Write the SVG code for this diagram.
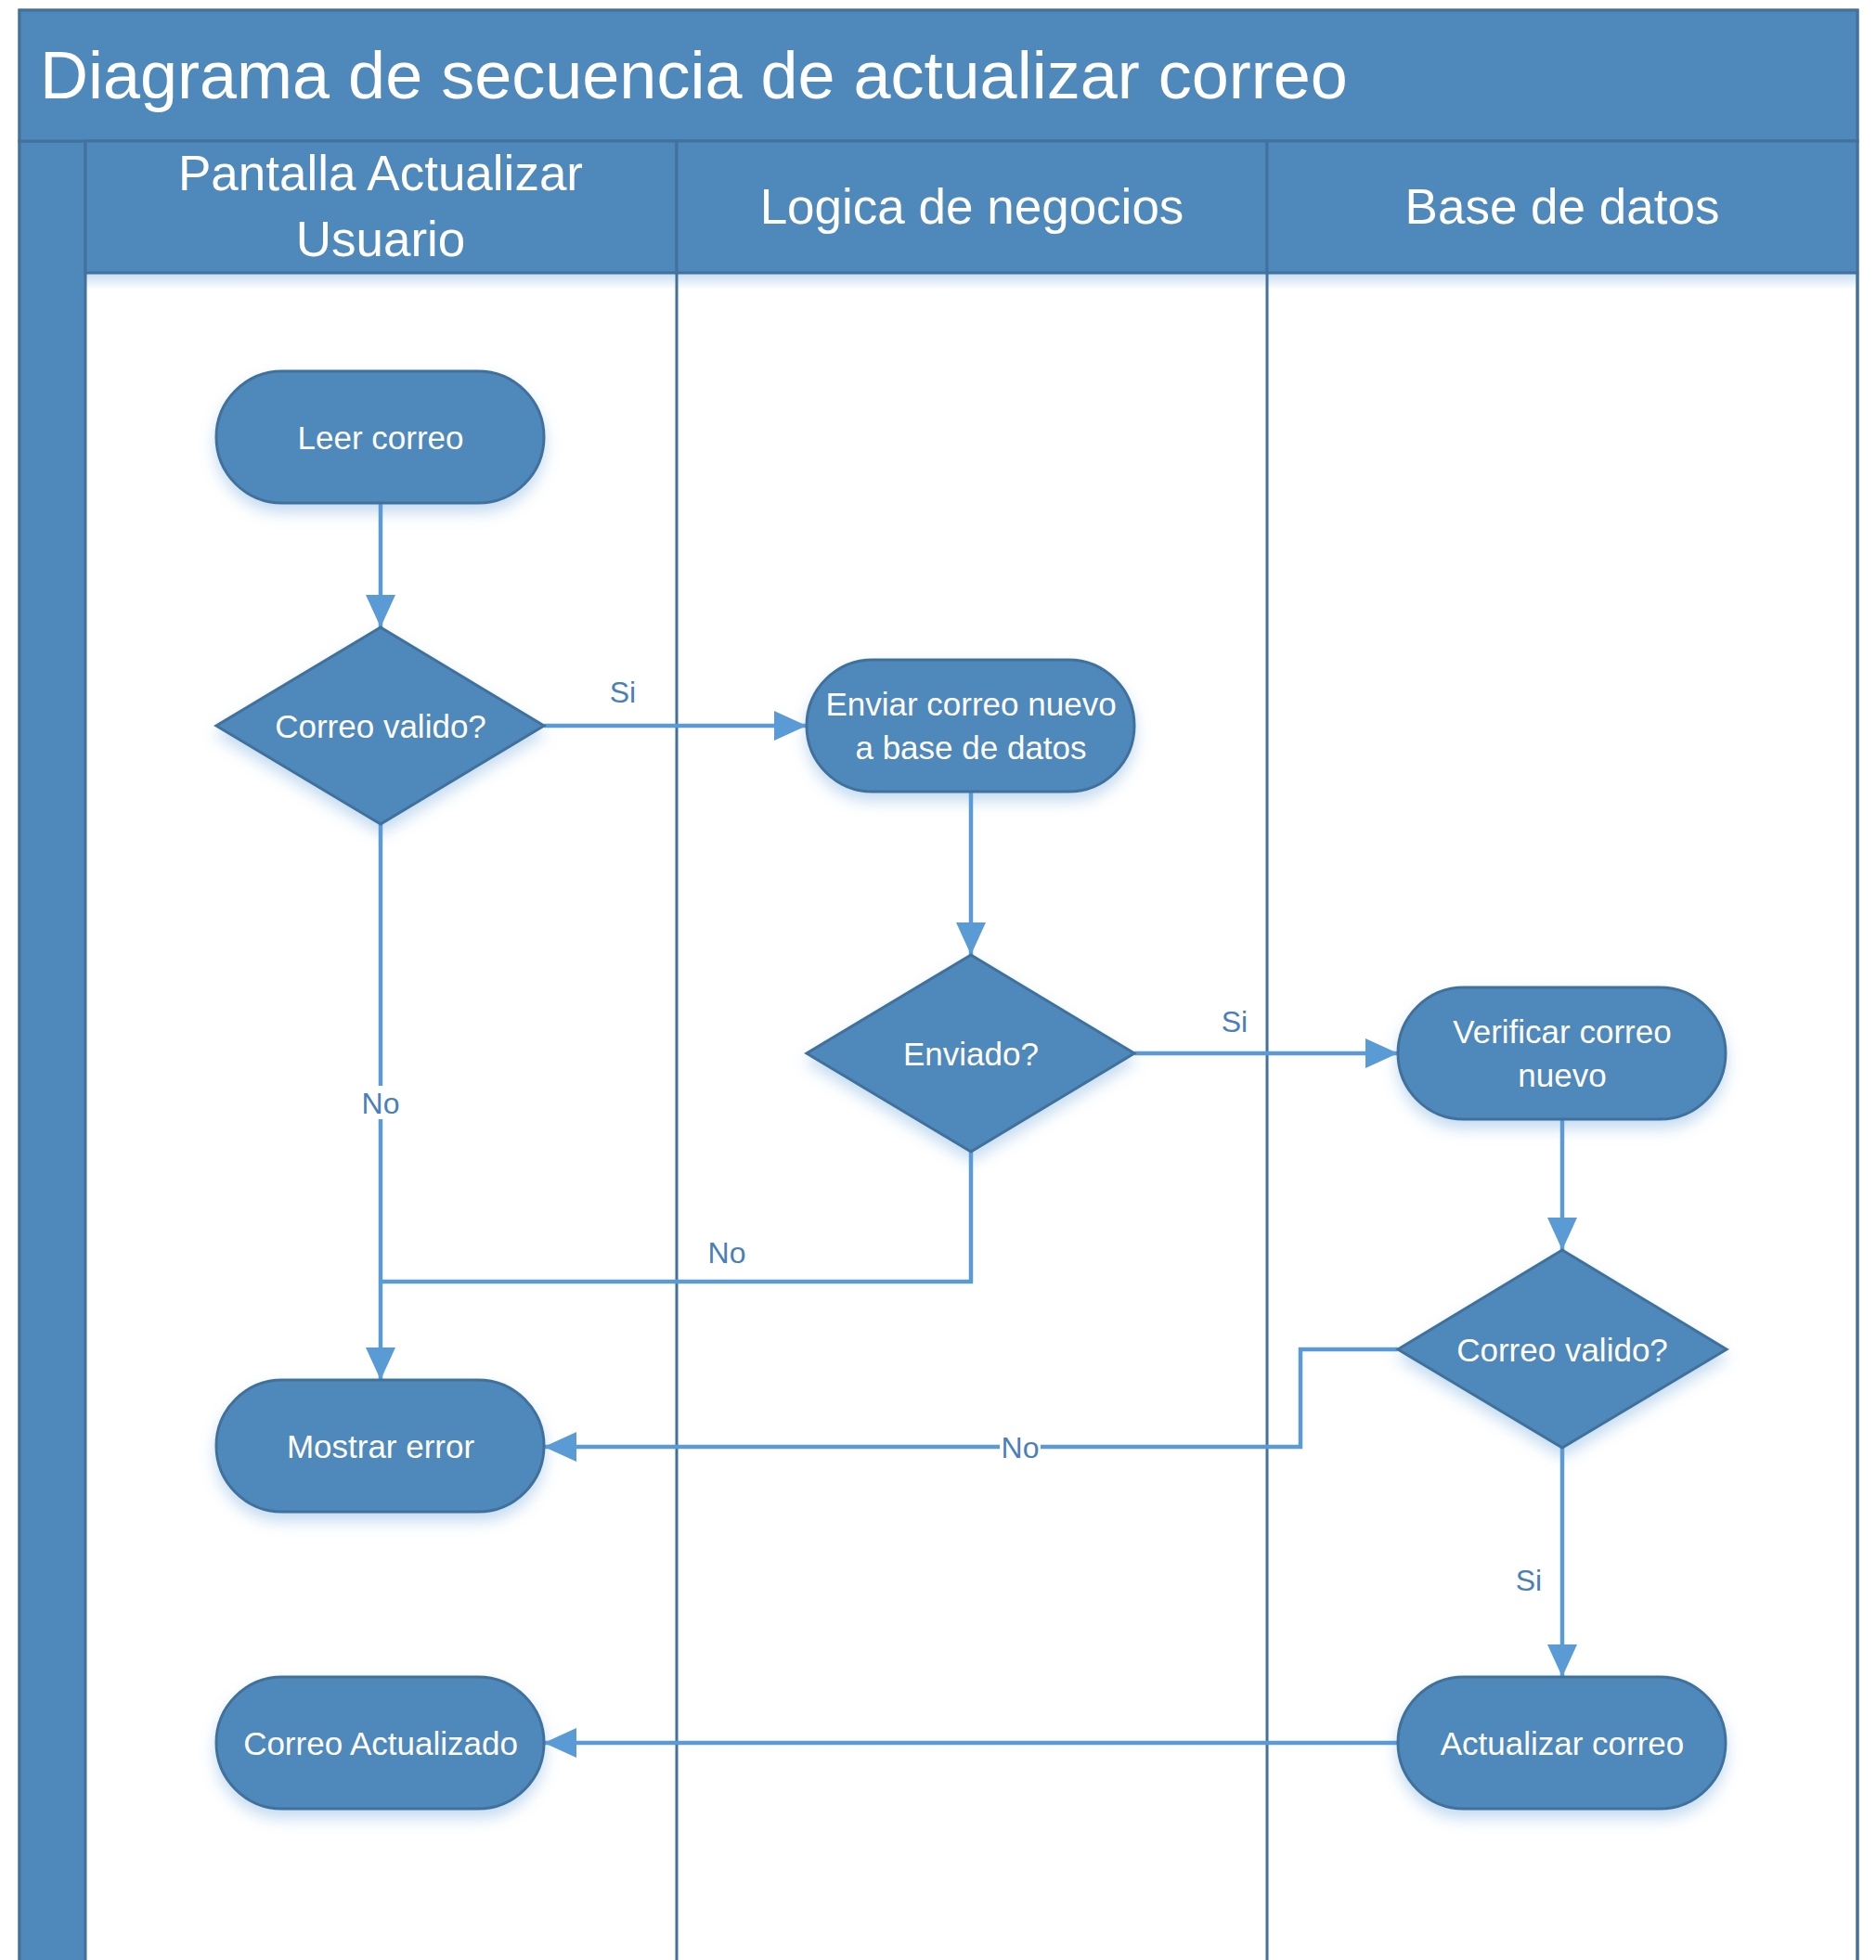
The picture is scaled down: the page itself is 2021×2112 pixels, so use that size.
<svg xmlns="http://www.w3.org/2000/svg" width="2021" height="2112" viewBox="0 0 2021 2112">
<defs>
<style>
.band{fill:#4F88BB;stroke:#41719C;stroke-width:3}
.lane{fill:none;stroke:#41719C;stroke-width:3}
.node{fill:#4F88BB;stroke:#41719C;stroke-width:3;filter:url(#sh)}
.ntext{font-family:"Liberation Sans",Arial,sans-serif;font-size:35px;fill:#ffffff;text-anchor:middle}
.htext{font-family:"Liberation Sans",Arial,sans-serif;font-size:53px;fill:#ffffff;text-anchor:middle}
.ttext{font-family:"Liberation Sans",Arial,sans-serif;font-size:72px;fill:#ffffff}
.conn{fill:none;stroke:#5B9BD5;stroke-width:4.5}
.lbl{font-family:"Liberation Sans",Arial,sans-serif;font-size:32px;fill:#4A80B8;text-anchor:middle}
.lblbg{fill:#ffffff}
</style>
<filter id="sh" x="-20%" y="-20%" width="140%" height="160%">
<feDropShadow dx="0" dy="9" stdDeviation="8" flood-color="#5B9BD5" flood-opacity="0.35"/>
</filter>
<linearGradient id="hs" x1="0" y1="0" x2="0" y2="1">
<stop offset="0" stop-color="#5B9BD5" stop-opacity="0.35"/>
<stop offset="1" stop-color="#5B9BD5" stop-opacity="0"/>
</linearGradient>
<marker id="arr" markerUnits="userSpaceOnUse" markerWidth="36" markerHeight="32" refX="35" refY="16" orient="auto">
<path d="M0,0 L35,16 L0,32 z" fill="#5B9BD5"/>
</marker>
</defs>

<g id="pool">
<rect x="21" y="11" width="1980" height="2120" fill="#ffffff" stroke="#41719C" stroke-width="3"/>
<rect x="92" y="294" width="1909" height="18" fill="url(#hs)"/>
<rect class="band" x="21" y="152" width="71" height="1980"/>
<rect class="band" x="21" y="11" width="1980" height="141"/>
<text class="ttext" x="43" y="106">Diagrama de secuencia de actualizar correo</text>
<rect class="band" x="92" y="152" width="637" height="142"/>
<rect class="band" x="729" y="152" width="636" height="142"/>
<rect class="band" x="1365" y="152" width="636" height="142"/>
<text class="htext" x="410" y="205">Pantalla Actualizar</text>
<text class="htext" x="410" y="276">Usuario</text>
<text class="htext" x="1047" y="241">Logica de negocios</text>
<text class="htext" x="1683" y="241">Base de datos</text>
<line class="lane" x1="729" y1="294" x2="729" y2="2112"/>
<line class="lane" x1="1365" y1="294" x2="1365" y2="2112"/>
<line class="lane" x1="2001" y1="294" x2="2001" y2="2112"/>
</g>

<g id="connectors">
<path class="conn" d="M410,542 L410,676" marker-end="url(#arr)"/>
<path class="conn" d="M586,782 L869,782" marker-end="url(#arr)"/>
<path class="conn" d="M1046,853 L1046,1029" marker-end="url(#arr)"/>
<path class="conn" d="M1222,1135 L1506,1135" marker-end="url(#arr)"/>
<path class="conn" d="M410,888 L410,1487" marker-end="url(#arr)"/>
<path class="conn" d="M1046,1241 L1046,1381 L410,1381"/>
<path class="conn" d="M1683,1206 L1683,1347" marker-end="url(#arr)"/>
<path class="conn" d="M1506,1454 L1401,1454 L1401,1559 L586,1559" marker-end="url(#arr)"/>
<path class="conn" d="M1683,1560 L1683,1807" marker-end="url(#arr)"/>
<path class="conn" d="M1506,1878 L586,1878" marker-end="url(#arr)"/>
<text class="lbl" x="671" y="757">Si</text>
<text class="lbl" x="1330" y="1112">Si</text>
<rect class="lblbg" x="388" y="1170" width="44" height="36"/>
<text class="lbl" x="410" y="1200">No</text>
<text class="lbl" x="783" y="1361">No</text>
<rect class="lblbg" x="1077" y="1545" width="44" height="28"/>
<text class="lbl" x="1099" y="1571">No</text>
<text class="lbl" x="1647" y="1714">Si</text>
</g>

<g id="leer-correo">
<rect class="node" x="233" y="400" width="353" height="142" rx="71" ry="71"/>
<text class="ntext" x="410" y="484">Leer correo</text>
</g>
<g id="correo-valido-1">
<polygon class="node" points="410,676 586,782 410,888 233,782"/>
<text class="ntext" x="410" y="795">Correo valido?</text>
</g>
<g id="enviar-correo">
<rect class="node" x="869" y="711" width="353" height="142" rx="71" ry="71"/>
<text class="ntext" x="1046" y="771">Enviar correo nuevo</text>
<text class="ntext" x="1046" y="818">a base de datos</text>
</g>
<g id="enviado">
<polygon class="node" points="1046,1029 1222,1135 1046,1241 869,1135"/>
<text class="ntext" x="1046" y="1148">Enviado?</text>
</g>
<g id="verificar-correo">
<rect class="node" x="1506" y="1064" width="353" height="142" rx="71" ry="71"/>
<text class="ntext" x="1683" y="1124">Verificar correo</text>
<text class="ntext" x="1683" y="1171">nuevo</text>
</g>
<g id="correo-valido-2">
<polygon class="node" points="1683,1347 1860,1454 1683,1560 1506,1454"/>
<text class="ntext" x="1683" y="1467">Correo valido?</text>
</g>
<g id="mostrar-error">
<rect class="node" x="233" y="1487" width="353" height="142" rx="71" ry="71"/>
<text class="ntext" x="410" y="1571">Mostrar error</text>
</g>
<g id="actualizar-correo">
<rect class="node" x="1506" y="1807" width="353" height="142" rx="71" ry="71"/>
<text class="ntext" x="1683" y="1891">Actualizar correo</text>
</g>
<g id="correo-actualizado">
<rect class="node" x="233" y="1807" width="353" height="142" rx="71" ry="71"/>
<text class="ntext" x="410" y="1891">Correo Actualizado</text>
</g>
</svg>
